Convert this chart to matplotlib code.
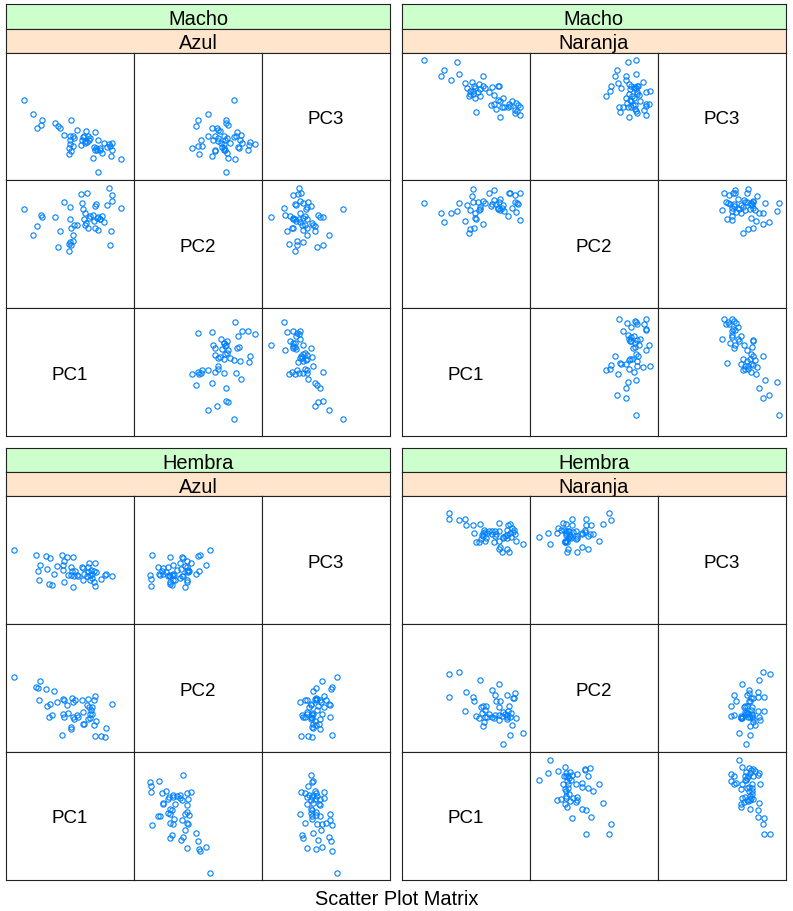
import matplotlib
matplotlib.use("Agg")
import matplotlib.pyplot as plt

plt.rcParams["font.family"] = ["Liberation Sans", "DejaVu Sans"]

# PC scores (same scale for every variable, 0..127)
macho_azul_pc1 = [17, 26, 30, 34, 35, 48, 51, 53, 57, 62, 62, 63, 63, 63, 64, 64, 66, 66, 67, 70,
                  74, 75, 76, 77, 78, 78, 79, 80, 81, 82, 83, 86, 87, 88, 88, 89, 90, 91, 91, 93,
                  93, 95, 97, 100, 102, 103, 104, 105, 105, 114]
macho_azul_pc2 = [99, 73, 82, 93, 91, 91, 61, 77, 106, 57, 64, 89, 101, 66, 63, 80, 73, 67, 83, 83,
                  114, 105, 99, 89, 83, 95, 85, 115, 80, 90, 92, 93, 87, 102, 80, 104, 90, 78, 91, 89,
                  89, 92, 86, 103, 120, 63, 77, 107, 113, 100]
macho_azul_pc3 = [80, 66, 52, 55, 60, 57, 54, 52, 45, 32, 26, 36, 44, 40, 60, 29, 44, 34, 42, 50,
                  35, 40, 43, 44, 39, 37, 49, 38, 44, 40, 42, 22, 33, 48, 30, 32, 30, 40, 8, 30,
                  32, 27, 37, 33, 36, 34, 24, 37, 30, 21]

macho_naranja_pc1 = [21, 38, 41, 48, 54, 56, 62, 64, 66, 67, 67, 69, 70, 70, 71, 72, 72, 73, 75, 76,
                     77, 77, 80, 80, 82, 86, 88, 89, 91, 91, 93, 95, 95, 96, 97, 97, 99, 100, 101, 105,
                     106, 107, 109, 112, 112, 113, 114, 115, 117, 117]
macho_naranja_pc2 = [105, 95, 86, 95, 97, 105, 87, 103, 75, 79, 98, 112, 106, 119, 80, 95, 90, 89, 106, 98,
                     99, 101, 84, 107, 105, 115, 102, 104, 118, 108, 104, 100, 99, 106, 109, 98, 100, 103, 97, 92,
                     115, 115, 100, 113, 106, 96, 105, 104, 115, 88]
macho_naranja_pc3 = [120, 104, 110, 100, 118, 106, 97, 92, 84, 89, 86, 98, 86, 89, 94, 82, 92, 68, 88, 96,
                     91, 84, 104, 94, 92, 88, 75, 93, 76, 85, 71, 94, 80, 94, 79, 63, 73, 82, 73, 73,
                     76, 74, 79, 70, 67, 77, 69, 75, 65, 73]

hembra_azul_pc1 = [7, 29, 31, 32, 33, 39, 40, 42, 43, 45, 47, 50, 55, 56, 56, 57, 57, 60, 61, 64,
                   64, 65, 66, 66, 67, 68, 70, 71, 75, 76, 76, 77, 80, 81, 81, 82, 83, 83, 84, 85,
                   85, 87, 87, 88, 88, 89, 94, 98, 99, 105]
hembra_azul_pc2 = [75, 65, 64, 52, 71, 63, 46, 35, 48, 37, 61, 50, 17, 53, 38, 35, 52, 47, 39, 25,
                   23, 54, 50, 35, 33, 52, 37, 35, 52, 28, 40, 28, 47, 33, 53, 45, 38, 34, 42, 45,
                   38, 52, 27, 16, 56, 31, 16, 15, 24, 48]
hembra_azul_pc3 = [74, 69, 53, 44, 59, 68, 55, 40, 66, 39, 50, 58, 69, 54, 59, 42, 63, 67, 49, 49,
                   57, 53, 37, 67, 48, 53, 49, 48, 57, 56, 44, 50, 48, 57, 52, 61, 44, 49, 54, 46,
                   50, 42, 53, 38, 61, 52, 45, 49, 50, 48]

hembra_naranja_pc1 = [46, 46, 56, 62, 63, 70, 71, 73, 76, 77, 78, 79, 80, 80, 81, 82, 82, 83, 84, 86,
                      89, 89, 91, 92, 92, 93, 96, 96, 96, 96, 97, 99, 100, 100, 102, 104, 104, 104, 104, 105,
                      106, 107, 107, 108, 109, 110, 111, 112, 113, 120]
hembra_naranja_pc2 = [55, 78, 80, 41, 60, 55, 51, 36, 34, 72, 45, 39, 46, 26, 30, 42, 35, 46, 35, 38,
                      35, 62, 34, 37, 57, 51, 45, 32, 37, 68, 51, 36, 8, 40, 38, 33, 35, 37, 57, 41,
                      46, 35, 17, 39, 27, 54, 54, 59, 34, 19]
hembra_naranja_pc3 = [105, 111, 104, 105, 99, 99, 91, 82, 82, 100, 85, 89, 88, 91, 94, 92, 83, 86, 91, 93,
                      93, 90, 82, 93, 88, 90, 93, 101, 75, 83, 77, 72, 87, 86, 88, 94, 89, 86, 75, 99,
                      72, 100, 91, 87, 96, 92, 94, 90, 83, 80]

var_names = ["PC1", "PC2", "PC3"]
sex_labels = ["Macho", "Macho", "Hembra", "Hembra"]
color_labels = ["Azul", "Naranja", "Azul", "Naranja"]
group_data = [
    [macho_azul_pc1, macho_azul_pc2, macho_azul_pc3],
    [macho_naranja_pc1, macho_naranja_pc2, macho_naranja_pc3],
    [hembra_azul_pc1, hembra_azul_pc2, hembra_azul_pc3],
    [hembra_naranja_pc1, hembra_naranja_pc2, hembra_naranja_pc3],
]

# figure size in pixels
W, H = 793, 911
fig = plt.figure(figsize=(W / 100, H / 100), dpi=100)


def px_axes(x, y, w, h):
    # add axes from a pixel box (top-left origin)
    return fig.add_axes([x / W, 1 - (y + h) / H, w / W, h / H])


def style_box(ax, face="white"):
    ax.set_facecolor(face)
    ax.set_xticks([])
    ax.set_yticks([])
    for sp in ax.spines.values():
        sp.set_color("#222222")
        sp.set_linewidth(0.8)


# top-left corner of each packet
origins = [(6, 4.5), (401.7, 4.5), (6, 448.3), (401.7, 448.3)]
group_w = 384
strip_h = 24
cell_w = group_w / 3
cell_h = 127.8

for g in range(4):
    gx, gy = origins[g]

    # the two strips
    s1 = px_axes(gx, gy, group_w, strip_h)
    style_box(s1, "#ccffcc")
    s1.text(0.5, 0.38, sex_labels[g], ha="center", va="center", fontsize=14.4, transform=s1.transAxes)
    s2 = px_axes(gx, gy + strip_h, group_w, strip_h)
    style_box(s2, "#ffe5cc")
    s2.text(0.5, 0.38, color_labels[g], ha="center", va="center", fontsize=14.4, transform=s2.transAxes)

    # 3x3 scatter plot matrix, PC1 at bottom-left
    for r in range(3):
        yvar = 2 - r
        for c in range(3):
            xvar = c
            ax = px_axes(gx + c * cell_w, gy + 2 * strip_h + r * cell_h, cell_w, cell_h)
            style_box(ax)
            ax.set_xlim(-1, 127)
            ax.set_ylim(0, 128)
            if xvar == yvar:
                ax.text(0.5, 0.475, var_names[xvar], ha="center", va="center", fontsize=13.5,
                        transform=ax.transAxes)
            else:
                ax.plot(group_data[g][xvar], group_data[g][yvar], "o", mfc="none", mec="#0080ff",
                        ms=3.8, mew=0.8)

fig.text(0.5, 1 - 905 / H, "Scatter Plot Matrix", ha="center", va="baseline", fontsize=14.4)

plt.savefig("out.png", dpi=100)
